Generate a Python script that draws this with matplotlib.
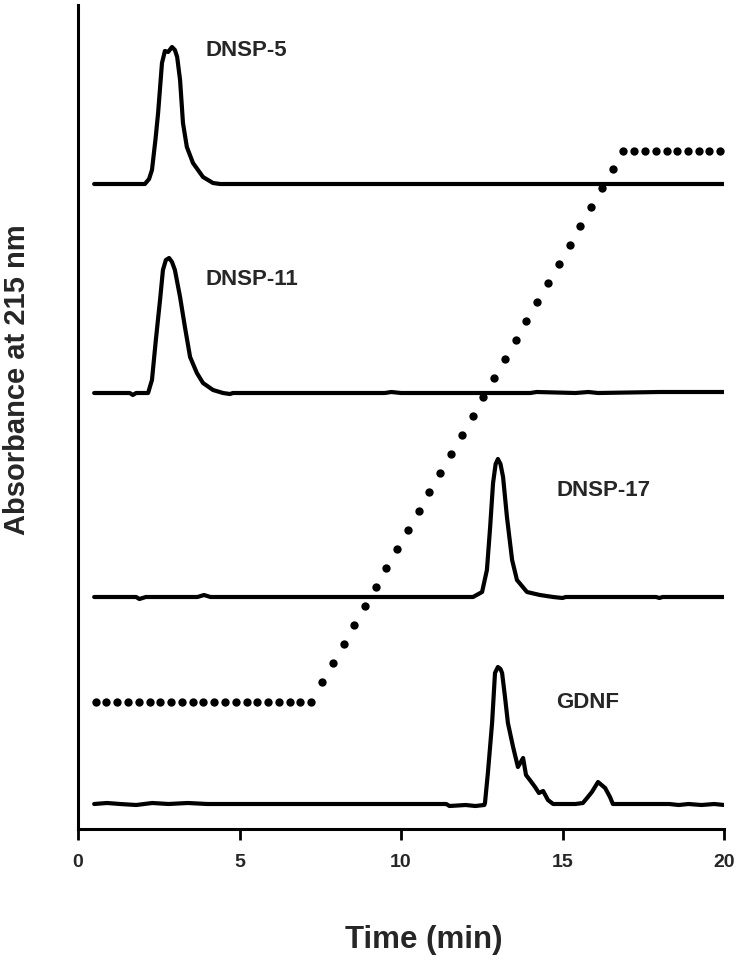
import matplotlib
matplotlib.use("Agg")
import matplotlib.pyplot as plt

plt.rcParams['font.family'] = ['Liberation Sans', 'DejaVu Sans']

# ---- data (time in min, absorbance in arbitrary units above each trace's baseline) ----
t_dnsp5 = [0.5, 2.07, 2.20, 2.29, 2.40, 2.48, 2.60, 2.69, 2.79, 2.91, 3.00, 3.07, 3.16, 3.25, 3.37, 3.56, 3.87, 4.18, 4.40, 20.0]
a_dnsp5 = [0, 0, 5, 14, 45, 71, 121, 133, 132, 137, 134, 127, 104, 61, 37, 21, 7, 1, 0, 0]

t_dnsp11 = [0.5, 1.6, 1.7, 1.8, 2.17, 2.29, 2.41, 2.54, 2.63, 2.72, 2.82, 2.91, 3.00, 3.16, 3.31, 3.47, 3.68,
            3.87, 4.18, 4.49, 4.7, 4.8, 9.5, 9.7, 10.0, 14.0, 14.2, 15.4, 15.8, 16.1, 18.0, 20.0]
a_dnsp11 = [0, 0, -2, 0, 0, 13, 53, 93, 123, 133, 135, 131, 123, 96, 66, 36, 20,
            10, 3, 0, -1, 0, 0, 1, 0, 0, 1, 0, 1, 0, 1, 1]

t_dnsp17 = [0.5, 1.8, 1.9, 2.1, 3.7, 3.9, 4.1, 12.23, 12.51, 12.66, 12.76, 12.85, 12.93, 13.00, 13.08, 13.16,
            13.28, 13.44, 13.59, 13.90, 14.30, 14.71, 15.0, 15.1, 17.9, 18.0, 18.1, 20.0]
a_dnsp17 = [0, 0, -2, 0, 0, 2, 0, 0, 5, 27, 70, 114, 133, 138, 133, 120,
            80, 37, 17, 5, 2, 0, -1, 0, 0, -1, 0, 0]

t_gdnf = [0.5, 0.9, 1.3, 1.8, 2.3, 2.8, 3.4, 4.0, 5.6, 11.4, 11.5, 12.0, 12.3, 12.58, 12.60, 12.69,
          12.82, 12.91, 13.00, 13.08, 13.13, 13.22, 13.31, 13.47, 13.62, 13.78, 13.87, 13.99, 14.15,
          14.27, 14.40, 14.55, 14.71, 15.4, 15.63, 15.76, 15.91, 16.10, 16.32, 16.47, 16.56,
          18.3, 18.6, 18.9, 19.3, 19.7, 20.0]
a_gdnf = [0, 1, 0, -1, 1, 0, 1, 0, 0, 0, -2, -1, -2, -1, 1, 31,
          81, 131, 137, 135, 131, 107, 81, 57, 37, 46, 29, 24, 17,
          11, 13, 4, 0, 0, 1, 6, 12, 22, 16, 7, 0,
          0, -1, 0, -1, 0, -1]

# gradient (arbitrary units, sampled every 20 s)
t_grad = [0.55, 0.88, 1.22, 1.55, 1.88, 2.22, 2.55, 2.88, 3.22, 3.55, 3.88, 4.22, 4.55, 4.88,
          5.22, 5.55, 5.88, 6.22, 6.55, 6.88, 7.22, 7.55, 7.88, 8.22, 8.55, 8.88, 9.22, 9.55,
          9.88, 10.22, 10.55, 10.88, 11.22, 11.55, 11.88, 12.22, 12.55, 12.88, 13.22, 13.55,
          13.88, 14.22, 14.55, 14.88, 15.22, 15.55, 15.88, 16.22, 16.55, 16.88, 17.22, 17.55,
          17.88, 18.22, 18.55, 18.88, 19.22, 19.55, 19.88]
v_grad = [127, 127, 127, 127, 127, 127, 127, 127, 127, 127, 127, 127, 127, 127,
          127, 127, 127, 127, 127, 127, 127, 147, 166, 185, 204, 223, 242, 261,
          280, 299, 318, 337, 356, 375, 394, 413, 432, 451, 470, 489, 508, 527,
          546, 565, 584, 603, 622, 641, 660, 678, 678, 678,
          678, 678, 678, 678, 678, 678, 678]

names = ["DNSP-5", "DNSP-11", "DNSP-17", "GDNF"]
x_ticks = [0, 5, 10, 15, 20]

# ---- layout / style ----
W, H = 745, 967
fig = plt.figure(figsize=(W / 100, H / 100), dpi=100)
ax = fig.add_axes([78 / W, 1 - 829 / H, (724 - 78) / W, (829 - 5) / H])

offsets = [645, 436, 232, 25]
traces = [(t_dnsp5, a_dnsp5), (t_dnsp11, a_dnsp11), (t_dnsp17, a_dnsp17), (t_gdnf, a_gdnf)]
for (t, a), off in zip(traces, offsets):
    ax.plot(t, [v + off for v in a], color='black', lw=3.0,
            solid_joinstyle='round', solid_capstyle='round', zorder=3)

ax.plot(t_grad, v_grad, linestyle='none', marker='o', ms=6.0, color='black',
        markeredgewidth=0, zorder=4)

label_pos = [(3.95, 779), (3.95, 550), (14.8, 339), (14.8, 126)]
for name, (lx, ly) in zip(names, label_pos):
    ax.text(lx, ly, name, fontsize=16, fontweight='bold', color='#262626',
            ha='left', va='center')

ax.set_xlim(0, 20)
ax.set_ylim(0, 824)
ax.set_xticks(x_ticks)
ax.set_xticklabels([str(v) for v in x_ticks], fontsize=14, fontweight='bold', color='#262626')
ax.set_yticks([])
ax.tick_params(axis='x', direction='out', length=8, width=2, pad=10)
for s in ['top', 'right']:
    ax.spines[s].set_visible(False)
for s in ['left', 'bottom']:
    ax.spines[s].set_linewidth(2.2)

fig.text(424 / W, 1 - 940 / H, "Time (min)", fontsize=22.5, fontweight='bold',
         color='#262626', ha='center', va='center')
fig.text(17 / W, 1 - 380 / H, "Absorbance at 215 nm", fontsize=21, fontweight='bold',
         color='#262626', ha='center', va='center', rotation=90)

fig.savefig("out.png", dpi=100)
